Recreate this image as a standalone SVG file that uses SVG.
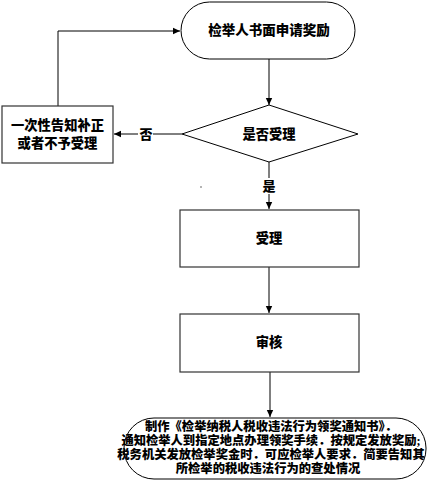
<svg xmlns="http://www.w3.org/2000/svg" width="427" height="485" viewBox="0 0 427 485">
<defs>
<marker id="arr" markerWidth="8" markerHeight="8" refX="7" refY="4" orient="auto" markerUnits="userSpaceOnUse">
<path d="M0,0.8 L7,4 L0,7.2 Z" fill="#000"/>
</marker>
</defs>
<style>
.t{font-family:"Liberation Serif","Noto Sans CJK SC",serif;font-weight:900;fill:#000;text-anchor:middle;dominant-baseline:central}
.n{fill:#fff;stroke:#000;stroke-width:1}
.b{fill:#fff;stroke:#333;stroke-width:1.2}
.c{fill:none;stroke:#000;stroke-width:1}
</style>
<rect width="427" height="485" fill="#fff"/>
<g id="connectors">
<path class="c" d="M58,106 V31 H180" marker-end="url(#arr)"/>
<path class="c" d="M269,59 V105" marker-end="url(#arr)"/>
<path class="c" d="M182,134 H114" marker-end="url(#arr)"/>
<rect x="138" y="126" width="15" height="16" fill="#fff"/>
<text class="t" x="146" y="134" font-size="13">否</text>
<path class="c" d="M269,162 V209" marker-end="url(#arr)"/>
<rect x="261" y="178" width="16" height="16" fill="#fff"/>
<text class="t" x="269" y="186" font-size="13">是</text>
<path class="c" d="M269,267 V313" marker-end="url(#arr)"/>
<path class="c" d="M270,372 V417" marker-end="url(#arr)"/>
<circle cx="201" cy="187" r="0.8" fill="#555"/>
</g>
<g id="start">
<rect class="n" x="181" y="2" width="174" height="57" rx="28.5"/>
<text class="t" x="269" y="30.5" font-size="13.5">检举人书面申请奖励</text>
</g>
<g id="decision">
<polygon class="n" points="269,105 358,134 269,162 182,134"/>
<text class="t" x="269" y="134" font-size="13.3">是否受理</text>
</g>
<g id="reject">
<rect class="b" x="2" y="106" width="111" height="57"/>
<text class="t" x="57.5" y="125" font-size="13.3">一次性告知补正</text>
<text class="t" x="57.5" y="143" font-size="13.3">或者不予受理</text>
</g>
<g id="accept">
<rect class="b" x="180" y="210" width="179" height="57"/>
<text class="t" x="269" y="238" font-size="13.3">受理</text>
</g>
<g id="review">
<rect class="b" x="180" y="314" width="179" height="58"/>
<text class="t" x="269" y="342" font-size="13.3">审核</text>
</g>
<g id="end">
<rect class="n" x="124" y="418" width="302" height="61" rx="30"/>
<text class="t" x="271" y="427" font-size="12.3">制作《检举纳税人税收违法行为领奖通知书》．</text>
<text class="t" x="271" y="441" font-size="12.3">通知检举人到指定地点办理领奖手续．按规定发放奖励;</text>
<text class="t" x="271" y="455" font-size="12.3">税务机关发放检举奖金时．可应检举人要求．简要告知其</text>
<text class="t" x="268" y="469" font-size="12.3">所检举的税收违法行为的查处情况</text>
</g>
</svg>
